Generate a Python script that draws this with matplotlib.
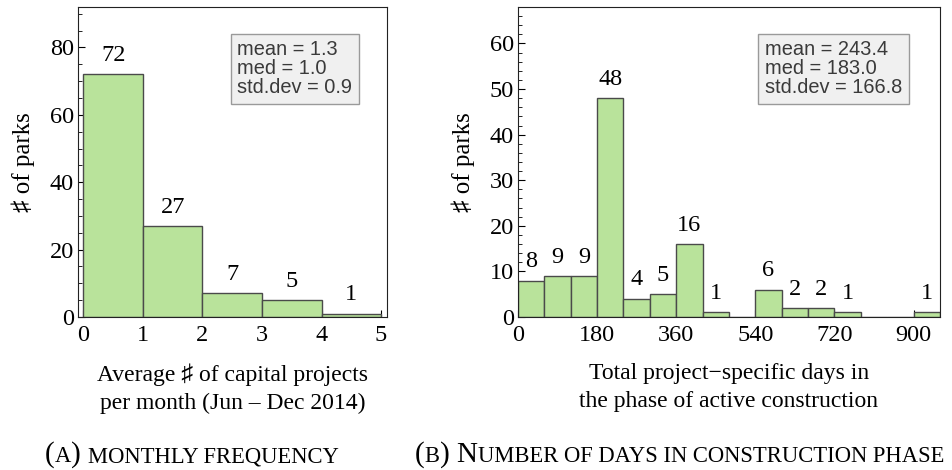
import matplotlib
matplotlib.use("Agg")
import matplotlib.pyplot as plt
from matplotlib.ticker import MultipleLocator

# data
freq_edges = [0, 1, 2, 3, 4, 5]
freq_counts = [72, 27, 7, 5, 1]
freq_stats = "mean = 1.3\nmed = 1.0\nstd.dev = 0.9"

days_edges = list(range(0, 961, 60))
days_counts = [8, 9, 9, 48, 4, 5, 16, 1, 0, 6, 2, 2, 1, 0, 0, 1]
days_stats = "mean = 243.4\nmed = 183.0\nstd.dev = 166.8"

SERIF = ['Liberation Serif', 'DejaVu Serif']
SANS = ['Liberation Sans', 'DejaVu Sans']
FILL = '#b9e39b'
EDGE = '#4a4a4a'

plt.rcParams['font.family'] = SERIF

fig = plt.figure(figsize=(9.53, 4.70), dpi=100)
W, H = 953, 470


def px_axes(l, t, r, b):
    return fig.add_axes([l / W, 1 - b / H, (r - l) / W, (b - t) / H])


def hist(ax, edges, counts, stats, box_x, xlim, ylim, xmajor, ymajor, yminor):
    widths = [edges[i + 1] - edges[i] for i in range(len(counts))]
    ax.bar(edges[:-1], counts, width=widths, align='edge', color=FILL,
           edgecolor=EDGE, linewidth=1.0, zorder=2)
    for x0, w, c in zip(edges[:-1], widths, counts):
        if c > 0:
            ax.annotate(str(c), (x0 + w / 2, c), xytext=(0, 6),
                        textcoords='offset points', ha='center', va='bottom',
                        fontsize=17.5, family=SERIF)
    ax.set_xlim(*xlim)
    ax.set_ylim(*ylim)
    ax.xaxis.set_major_locator(MultipleLocator(xmajor))
    ax.yaxis.set_major_locator(MultipleLocator(ymajor))
    ax.yaxis.set_minor_locator(MultipleLocator(yminor))
    ax.tick_params(direction='in', labelsize=17.5, length=5, width=0.8, pad=3)
    ax.tick_params(axis='x', pad=6)
    ax.tick_params(which='minor', direction='in', length=3, width=0.6)
    for s in ax.spines.values():
        s.set_linewidth(0.8)
        s.set_color('#222222')
    ax.set_ylabel("\u266f of parks", fontsize=18, labelpad=10.5)
    ax.text(box_x, 0.893, stats, transform=ax.transAxes, ha='left', va='top',
            fontsize=14.4, family=SANS, color='#3a3a3a', linespacing=1.0,
            bbox=dict(boxstyle='square,pad=0.33', facecolor='#f0f0f0',
                      edgecolor='#9a9a9a', linewidth=1.0))


ax1 = px_axes(78, 7, 387, 317)
hist(ax1, freq_edges, freq_counts, freq_stats, 0.515,
     (-0.09, 5.1), (0, 92), 1, 20, 5)
ax1.set_xlabel("Average \u266f of capital projects\nper month (Jun \u2013 Dec 2014)",
               fontsize=17, labelpad=12, linespacing=1.45)

ax2 = px_axes(518, 7, 940, 317)
hist(ax2, days_edges, days_counts, days_stats, 0.585,
     (0, 960), (0, 68), 180, 10, 2)
ax2.set_xlabel("Total project\u2212specific days in\nthe phase of active construction",
               fontsize=17, labelpad=12, linespacing=1.45)


def small_caps(x_px, y_px, parts):
    # parts: list of (text, size); placed one after another
    fig.canvas.draw()
    r = fig.canvas.get_renderer()
    x = x_px / W
    for txt, size in parts:
        t = fig.text(x, 1 - y_px / H, txt, fontsize=size, family=SERIF,
                     ha='left', va='baseline')
        bb = t.get_window_extent(renderer=r)
        x = bb.x1 / fig.dpi / fig.get_figwidth()


BIG, SMALL = 21, 16.3
small_caps(45, 462, [("(", BIG), ("A", SMALL), (") ", BIG),
                     ("MONTHLY FREQUENCY", SMALL)])
small_caps(415, 462, [("(", BIG), ("B", SMALL), (") N", BIG),
                      ("UMBER OF DAYS IN CONSTRUCTION PHASE", SMALL)])

fig.savefig("out.png", dpi=100)
